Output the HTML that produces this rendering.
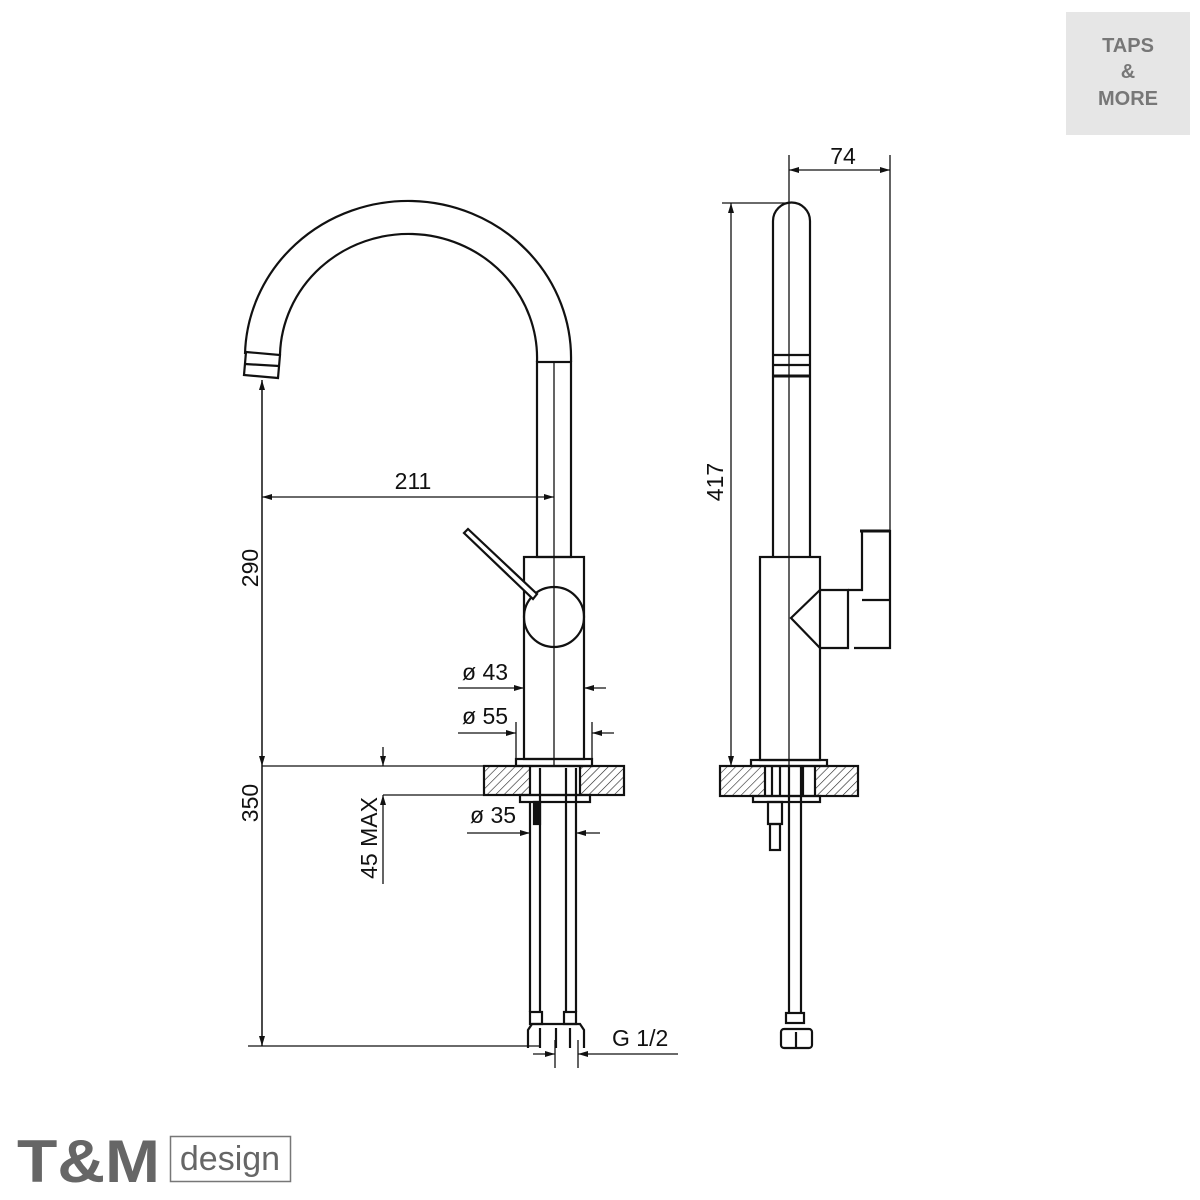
<!DOCTYPE html>
<html><head><meta charset="utf-8"><style>
html,body{margin:0;padding:0;background:#fff;width:1200px;height:1200px;overflow:hidden}
</style></head><body>
<svg width="1200" height="1200" viewBox="0 0 1200 1200" xmlns="http://www.w3.org/2000/svg" style="position:absolute;left:0;top:0">
<defs>
<pattern id="h" patternUnits="userSpaceOnUse" width="6" height="6" patternTransform="rotate(45)">
<line x1="0" y1="0" x2="0" y2="6" stroke="#222" stroke-width="1.2"/>
</pattern>
<marker id="a" viewBox="0 0 10 6" refX="10" refY="3" markerWidth="10" markerHeight="6" orient="auto-start-reverse" markerUnits="userSpaceOnUse">
<path d="M0,0 L10,3 L0,6 z" fill="#111"/>
</marker>
</defs>
<rect x="1066" y="12" width="124" height="123" fill="#e6e6e6"/>
<g font-family="Liberation Sans, sans-serif" font-weight="bold" font-size="20" fill="#777" text-anchor="middle">
<text x="1128" y="52">TAPS</text><text x="1128" y="78">&amp;</text><text x="1128" y="105">MORE</text>
</g>
<text x="17" y="1182" font-family="Liberation Sans, sans-serif" font-weight="bold" font-size="60" fill="#666" textLength="143" lengthAdjust="spacingAndGlyphs">T&amp;M</text>
<rect x="170.5" y="1136.5" width="120" height="45" fill="none" stroke="#777" stroke-width="1.5"/>
<text x="230" y="1170" font-family="Liberation Sans, sans-serif" font-size="34" fill="#666" text-anchor="middle">design</text>

<g fill="none" stroke="#111" stroke-width="2.2">
<path d="M245,354 A163,157 0 0 1 571,362"/>
<path d="M280,354 A128.5,124 0 0 1 537,362"/>
<path d="M246,352 L280,355 L278,378 L244,375 z"/>
<line x1="245" y1="364" x2="279" y2="366"/>
<rect x="537" y="362" width="34" height="195"/>
<rect x="524" y="557" width="60" height="202"/>
<circle cx="554" cy="617" r="30"/>
<path d="M464,533 L468,529 L537,594 L533,599 z" fill="#fff"/>
<rect x="516" y="759" width="76" height="7"/>
<rect x="484" y="766" width="140" height="29"/>
<rect x="485" y="767" width="45" height="27" fill="url(#h)" stroke="none"/>
<rect x="580" y="767" width="43" height="27" fill="url(#h)" stroke="none"/>
<line x1="530" y1="766" x2="530" y2="795"/><line x1="580" y1="766" x2="580" y2="795"/>
<rect x="520" y="795" width="70" height="7"/>
<line x1="530" y1="802" x2="530" y2="1012"/><line x1="540" y1="768" x2="540" y2="1012"/>
<line x1="566" y1="768" x2="566" y2="1012"/><line x1="576" y1="768" x2="576" y2="1012"/>
<rect x="534" y="802" width="6" height="22" fill="#111"/>
<rect x="530" y="1012" width="12" height="12"/><rect x="564" y="1012" width="12" height="12"/>
<path d="M528,1048 L528,1030 L532,1024 L580,1024 L584,1030 L584,1048"/>
<line x1="540" y1="1028" x2="540" y2="1048"/><line x1="556" y1="1028" x2="556" y2="1048"/><line x1="570" y1="1028" x2="570" y2="1048"/>
<path d="M773,557 L773,221 A18,18 0 0 1 810,221 L810,557"/>
<line x1="773" y1="355" x2="810" y2="355"/><line x1="773" y1="365" x2="810" y2="365"/><line x1="773" y1="376" x2="810" y2="376" stroke-width="3"/>
<rect x="760" y="557" width="60" height="203"/>
<path d="M820,590 L848,590 L848,648 L820,648"/>
<path d="M820,590 L791,618 L820,648" />
<path d="M848,590 L862,590 L862,531 L890,531 L890,648 L854,648"/>
<line x1="862" y1="600" x2="890" y2="600"/><line x1="860" y1="531" x2="890" y2="531" stroke-width="3"/>
<rect x="751" y="760" width="76" height="6"/>
<rect x="720" y="766" width="138" height="30"/>
<rect x="721" y="767" width="44" height="28" fill="url(#h)" stroke="none"/>
<rect x="815" y="767" width="42" height="28" fill="url(#h)" stroke="none"/>
<line x1="765" y1="766" x2="765" y2="796"/><line x1="815" y1="766" x2="815" y2="796"/>
<line x1="772" y1="766" x2="772" y2="796"/><line x1="780" y1="766" x2="780" y2="796"/><line x1="803" y1="766" x2="803" y2="796"/>
<rect x="753" y="796" width="67" height="6"/>
<rect x="768" y="802" width="14" height="22"/><rect x="770" y="824" width="10" height="26"/>
<line x1="789" y1="766" x2="789" y2="1013"/><line x1="801" y1="766" x2="801" y2="1013"/>
<rect x="786" y="1013" width="18" height="10"/>
<rect x="781" y="1029" width="31" height="19" rx="3"/>
<line x1="796" y1="1032" x2="796" y2="1048"/>
</g>
<g stroke="#111" stroke-width="1.3" fill="none">
<line x1="554" y1="362" x2="554" y2="765"/>
<line x1="789" y1="155" x2="789" y2="765"/>
<line x1="262" y1="380" x2="262" y2="1046"/>
<line x1="262" y1="497" x2="554" y2="497" marker-start="url(#a)" marker-end="url(#a)"/>
<line x1="262" y1="766" x2="484" y2="766"/>
<line x1="248" y1="1046" x2="540" y2="1046"/>
<line x1="262" y1="380" x2="262" y2="766" marker-start="url(#a)" marker-end="url(#a)"/>
<line x1="262" y1="766" x2="262" y2="1046" marker-end="url(#a)"/>
<line x1="383" y1="795" x2="484" y2="795"/>
<line x1="383" y1="747" x2="383" y2="766" marker-end="url(#a)"/>
<line x1="383" y1="884" x2="383" y2="795" marker-end="url(#a)"/>
<line x1="458" y1="688" x2="524" y2="688" marker-end="url(#a)"/>
<line x1="606" y1="688" x2="584" y2="688" marker-end="url(#a)"/>
<line x1="516" y1="722" x2="516" y2="760"/><line x1="592" y1="722" x2="592" y2="760"/>
<line x1="458" y1="733" x2="516" y2="733" marker-end="url(#a)"/>
<line x1="614" y1="733" x2="592" y2="733" marker-end="url(#a)"/>
<line x1="467" y1="833" x2="530" y2="833" marker-end="url(#a)"/>
<line x1="600" y1="833" x2="576" y2="833" marker-end="url(#a)"/>
<line x1="533" y1="1054" x2="555" y2="1054" marker-end="url(#a)"/>
<line x1="678" y1="1054" x2="578" y2="1054" marker-end="url(#a)"/>
<line x1="555" y1="1040" x2="555" y2="1068"/><line x1="578" y1="1040" x2="578" y2="1068"/>
<line x1="890" y1="155" x2="890" y2="648"/>
<line x1="789" y1="170" x2="890" y2="170" marker-start="url(#a)" marker-end="url(#a)"/>
<line x1="722" y1="203" x2="789" y2="203"/>
<line x1="731" y1="203" x2="731" y2="766" marker-start="url(#a)" marker-end="url(#a)"/>
</g>
<g font-family="Liberation Sans, sans-serif" font-size="23" fill="#111">
<text x="413" y="489" text-anchor="middle">211</text>
<text x="843" y="164" text-anchor="middle">74</text>
<text transform="translate(258,568) rotate(-90)" text-anchor="middle">290</text>
<text transform="translate(258,803) rotate(-90)" text-anchor="middle">350</text>
<text transform="translate(377,838) rotate(-90)" text-anchor="middle">45 MAX</text>
<text transform="translate(723,482) rotate(-90)" text-anchor="middle">417</text>
<text x="462" y="680">ø 43</text>
<text x="462" y="724">ø 55</text>
<text x="470" y="823">ø 35</text>
<text x="612" y="1046">G 1/2</text>
</g>
</svg>
</body></html>
